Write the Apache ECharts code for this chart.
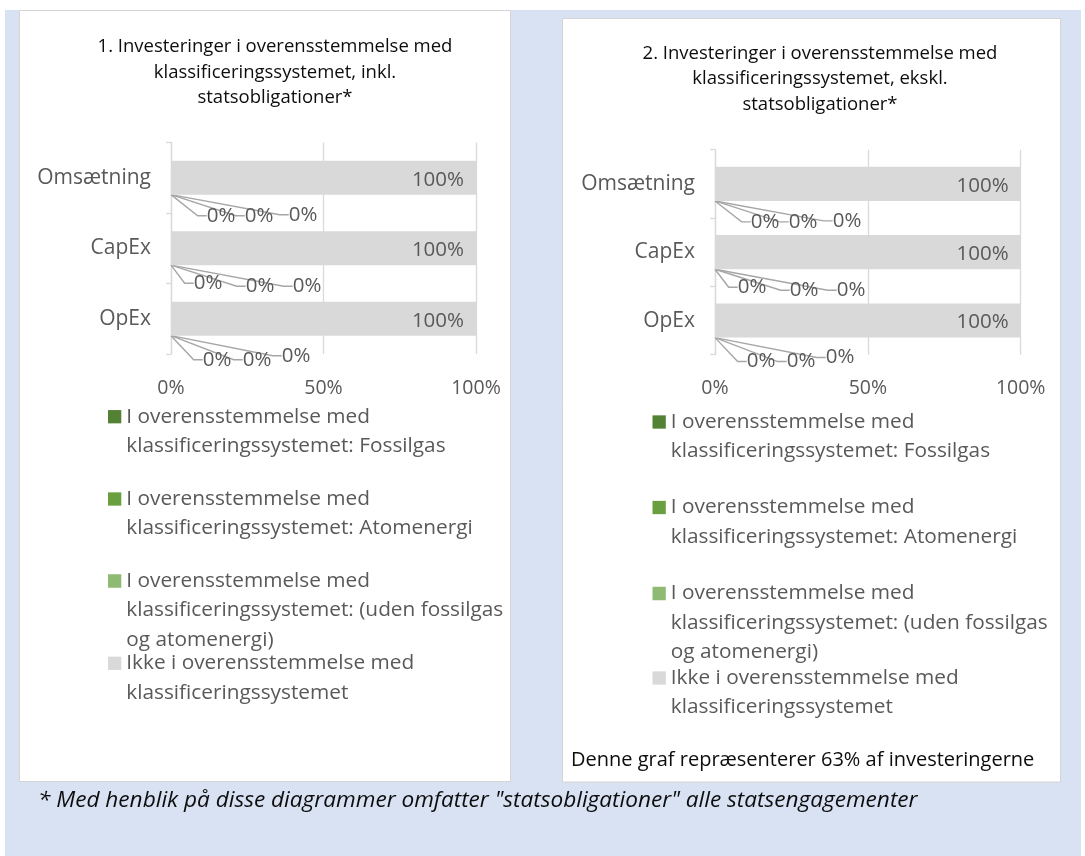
<!DOCTYPE html>
<html>
<head>
<meta charset="utf-8">
<script src="https://cdn.jsdelivr.net/npm/echarts@6/dist/echarts.min.js"></script>
<style>
  html, body { margin: 0; padding: 0; background: #ffffff; }
  #chart { width: 1085px; height: 856px; }
</style>
</head>
<body>
<div id="chart"></div>
<script>
// ---- data ----
const categories = ['Omsætning', 'CapEx', 'OpEx'];

const seriesNames = [
  'I overensstemmelse med klassificeringssystemet: Fossilgas',
  'I overensstemmelse med klassificeringssystemet: Atomenergi',
  'I overensstemmelse med klassificeringssystemet: (uden fossilgas og atomenergi)',
  'Ikke i overensstemmelse med klassificeringssystemet'
];

// legend wording, one entry per line
const legendLines = [
  ['I overensstemmelse med', 'klassificeringssystemet: Fossilgas'],
  ['I overensstemmelse med', 'klassificeringssystemet: Atomenergi'],
  ['I overensstemmelse med', 'klassificeringssystemet: (uden fossilgas', 'og atomenergi)'],
  ['Ikke i overensstemmelse med', 'klassificeringssystemet']
];

// 1. incl. government bonds (% per KPI)
const inklFossilgas  = [0, 0, 0];
const inklAtomenergi = [0, 0, 0];
const inklOevrige    = [0, 0, 0];
const inklIkke       = [100, 100, 100];

// 2. excl. government bonds (% per KPI)
const ekslFossilgas  = [0, 0, 0];
const ekslAtomenergi = [0, 0, 0];
const ekslOevrige    = [0, 0, 0];
const ekslIkke       = [100, 100, 100];

const xTicks = [0, 50, 100];

const chartTitles = [
  '1. Investeringer i overensstemmelse med\nklassificeringssystemet, inkl.\nstatsobligationer*',
  '2. Investeringer i overensstemmelse med\nklassificeringssystemet, ekskl.\nstatsobligationer*'
];
const coverageNote = 'Denne graf repræsenterer 63% af investeringerne';
const footnote = '* Med henblik på disse diagrammer omfatter "statsobligationer" alle statsengagementer';

// ---- styling / layout ----
const FONT = "'Open Sans', sans-serif";
const TEXT_GREY = '#595959';
const GRID_GREY = '#d9d9d9';
const COLORS = ['#548235', '#6a9f3f', '#8fba74', '#d9d9d9'];

const GRIDS = [
  { left: 171, top: 142.5, width: 305, height: 211.5, barWidth: '48%' },
  { left: 715, top: 149.7, width: 305.7, height: 205, barWidth: '50%' }
];

// offsets of the small "0%" labels (row = category, column = series)
const NUDGE_DX = [[50, 88, 132], [37, 89, 136], [46, 86, 125]];
const NUDGE_DY = [[38, 38, 37], [35, 38, 38], [41, 41, 37]];

const LEGEND_LEFT = [108, 652.5];
const LEGEND_FIRST_LINE = [[416.7, 499, 581, 663.3], [422, 507.5, 593.5, 678]];
const LEGEND_LINE_H = 29.3;

const chartData = [
  [inklFossilgas, inklAtomenergi, inklOevrige, inklIkke],
  [ekslFossilgas, ekslAtomenergi, ekslOevrige, ekslIkke]
];

function buildSeries(g) {
  return chartData[g].map((vals, k) => {
    const s = {
      name: seriesNames[k],
      type: 'bar',
      stack: 'kpi' + g,
      xAxisIndex: g,
      yAxisIndex: g,
      barWidth: GRIDS[g].barWidth,
      data: vals,
      itemStyle: { color: COLORS[k] },
      label: {
        show: true,
        formatter: p => p.value + '%',
        color: TEXT_GREY,
        fontFamily: FONT,
        fontSize: 20.5,
        textBorderWidth: 0,
        textBorderColor: 'transparent'
      }
    };
    if (k < 3) {
      s.label.position = 'inside';
      s.labelLine = { show: true, length2: 9, lineStyle: { color: '#a6a6a6', width: 1.4 } };
      s.labelLayout = p => ({ dx: NUDGE_DX[p.dataIndex][k], dy: NUDGE_DY[p.dataIndex][k] });
    } else {
      s.label.position = 'insideRight';
      s.label.distance = 12;
      s.label.offset = [0, 2];
    }
    return s;
  });
}

function legendIcon(lines) {
  const h = lines * LEGEND_LINE_H;
  return 'path://M0,0M0,8h13.3v13.3h-13.3zM13.3,' + h;
}

const legends = [];
[0, 1].forEach(g => {
  seriesNames.forEach((name, k) => {
    const n = legendLines[k].length;
    legends.push({
      data: [name],
      orient: 'vertical',
      left: LEGEND_LEFT[g],
      top: LEGEND_FIRST_LINE[g][k] - LEGEND_LINE_H / 2,
      padding: 0,
      itemWidth: 13.3,
      itemHeight: n * LEGEND_LINE_H,
      icon: legendIcon(n),
      formatter: () => legendLines[k].join('\n'),
      textStyle: { color: TEXT_GREY, fontFamily: FONT, fontSize: 20.8, lineHeight: LEGEND_LINE_H }
    });
  });
});

const option = {
  animation: false,
  textStyle: { fontFamily: FONT },
  title: [
    { text: chartTitles[0], left: 275, top: 34, textAlign: 'center', padding: 0,
      textStyle: { fontFamily: FONT, fontSize: 18.5, fontWeight: 'normal', color: '#0d0d0d', lineHeight: 25.5 } },
    { text: chartTitles[1], left: 820, top: 40.5, textAlign: 'center', padding: 0,
      textStyle: { fontFamily: FONT, fontSize: 18.5, fontWeight: 'normal', color: '#0d0d0d', lineHeight: 25.5 } }
  ],
  legend: legends,
  grid: GRIDS.map(g => ({ left: g.left, top: g.top, width: g.width, height: g.height, containLabel: false })),
  xAxis: [0, 1].map(g => ({
    type: 'value',
    gridIndex: g,
    min: xTicks[0],
    max: xTicks[xTicks.length - 1],
    interval: xTicks[1] - xTicks[0],
    axisLine: { show: false },
    axisTick: { show: false },
    splitLine: { show: true, lineStyle: { color: GRID_GREY, width: 1.3 } },
    axisLabel: { formatter: '{value}%', color: TEXT_GREY, fontFamily: FONT, fontSize: 19.5, margin: 24 }
  })),
  yAxis: [0, 1].map(g => ({
    type: 'category',
    gridIndex: g,
    inverse: true,
    data: categories,
    axisLine: { show: true, lineStyle: { color: GRID_GREY, width: 1.3 } },
    axisTick: { show: true, length: 5, lineStyle: { color: GRID_GREY, width: 1.3 } },
    axisLabel: { color: TEXT_GREY, fontFamily: FONT, fontSize: 21, margin: 20 }
  })),
  graphic: [
    { type: 'rect', z: -10, silent: true, shape: { x: 5, y: 10, width: 1076, height: 846 }, style: { fill: '#d9e2f3' } },
    { type: 'rect', z: -9, silent: true, shape: { x: 19.5, y: 10.5, width: 491, height: 771 }, style: { fill: '#ffffff', stroke: '#d4d4d4', lineWidth: 1 } },
    { type: 'rect', z: -9, silent: true, shape: { x: 562.5, y: 18.5, width: 498, height: 763.5 }, style: { fill: '#ffffff', stroke: '#d4d4d4', lineWidth: 1 } },
    { type: 'text', z: 5, silent: true, style: { text: coverageNote, x: 571, y: 760, verticalAlign: 'middle', fill: '#0d0d0d', font: "20px 'Open Sans', sans-serif" } },
    { type: 'text', z: 5, silent: true, style: { text: footnote, x: 38, y: 801, verticalAlign: 'middle', fill: '#0d0d0d', font: "italic 22.6px 'Open Sans', sans-serif" } }
  ],
  series: buildSeries(0).concat(buildSeries(1))
};

const chart = echarts.init(document.getElementById('chart'), null, { renderer: 'canvas' });
chart.setOption(option);
</script>
</body>
</html>
